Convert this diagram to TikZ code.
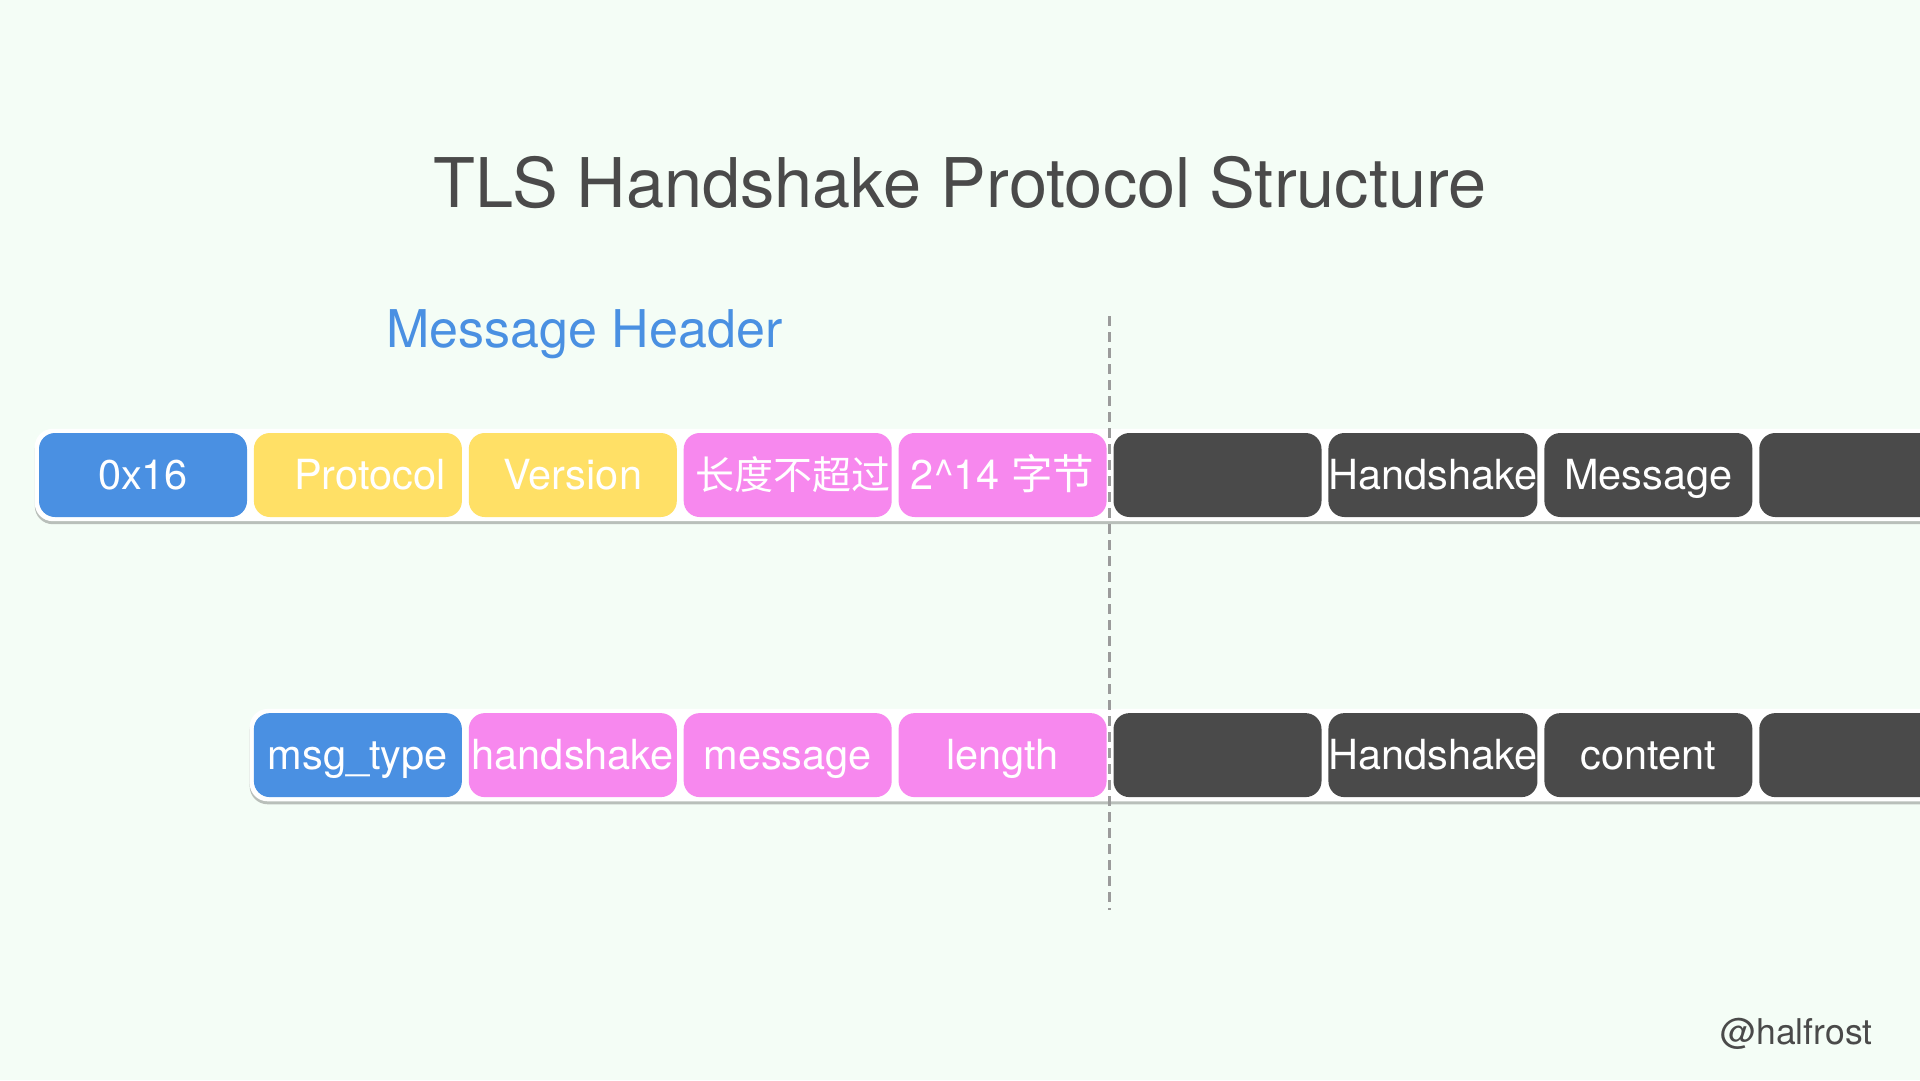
\documentclass[tikz,border=0pt]{standalone}
\usepackage{fontspec}
\setmainfont{TeX Gyre Heros}
\newfontfamily\cjk{Noto Sans CJK SC}
\definecolor{hsblau}{HTML}{4A90E2}
\definecolor{hsgelb}{HTML}{FFE066}
\definecolor{hsrosa}{HTML}{F788EE}
\definecolor{hsgrau}{HTML}{4A4A4A}
\definecolor{hsminze}{HTML}{F4FDF6}
\definecolor{hsstrich}{HTML}{9B9B9B}
\usetikzlibrary{positioning, fit, backgrounds, shadows}

\begin{document}
\begin{tikzpicture}[
    x=1pt, y=1pt,
    node distance=6.5pt,
    field/.style={rectangle, rounded corners=16pt,
                minimum width=208pt, minimum height=84pt, inner sep=0pt,
                text=white, text height=29pt, text depth=0pt,
                font=\fontsize{41.5}{44}\selectfont},
    typefield/.style={field, fill=hsblau},
    verfield/.style={field, fill=hsgelb},
    lenfield/.style={field, fill=hsrosa},
    bodyfield/.style={field, fill=hsgrau},
    strip/.style={rectangle, rounded corners=18pt, fill=white, inner sep=4pt,
                drop shadow={shadow xshift=0pt, shadow yshift=-3pt,
                             opacity=0.35, fill=black!70}}
  ]
  \useasboundingbox (0,0) rectangle (1920,-1080);
  \clip (0,0) rectangle (1920,-1080);

  \node[anchor=base, text=hsgrau, font=\fontsize{68.5}{72}\selectfont] (title)
    at (960,-207) {TLS Handshake Protocol Structure};
  \node[anchor=base west, text=hsblau, font=\fontsize{52}{56}\selectfont] (hdrlabel)
    at (383,-347) {Message Header};

  % record header + fragment
  \node[typefield] (ctype) at (143,-475) {0x16};
  \node[verfield, right=of ctype] (pver1) {\hspace{24pt}Protocol};
  \node[verfield, right=of pver1] (pver2) {Version};
  \node[lenfield, right=of pver2] (len1) {\hspace{10pt}\cjk\fontsize{39}{42}\selectfont 长度不超过};
  \node[lenfield, right=of len1] (len2) {2\textasciicircum14 {\cjk 字节}};
  \node[bodyfield, right=of len2] (frag1) {};
  \node[bodyfield, right=of frag1] (frag2) {Handshake};
  \node[bodyfield, right=of frag2] (frag3) {Message};
  \node[bodyfield, right=of frag3] (frag4) {};

  % handshake message
  \node[typefield, below=195.7pt of pver1] (mtype) {msg\_type};
  \node[lenfield, right=of mtype] (mlen1) {handshake};
  \node[lenfield, right=of mlen1] (mlen2) {message};
  \node[lenfield, right=of mlen2] (mlen3) {length};
  \node[bodyfield, right=of mlen3] (body1) {};
  \node[bodyfield, right=of body1] (body2) {Handshake};
  \node[bodyfield, right=of body2] (body3) {content};
  \node[bodyfield, right=of body3] (body4) {};

  \coordinate (cuttop) at (1109,-316);
  \coordinate (cutbot) at (1109,-910);
  \draw[hsstrich, line width=3pt, dash pattern=on 10pt off 6pt] (cuttop) -- (cutbot);

  \node[anchor=base east, text=hsgrau, font=\fontsize{35.5}{38}\selectfont] (credit)
    at (1876,-1044) {@halfrost};

  \begin{scope}[on background layer]
    \fill[hsminze] (0,0) rectangle (1920,-1080);
    \node[strip, fit=(ctype)(frag4)] (recstrip) {};
    \node[strip, fit=(mtype)(body4)] (msgstrip) {};
  \end{scope}
\end{tikzpicture}
\end{document}
